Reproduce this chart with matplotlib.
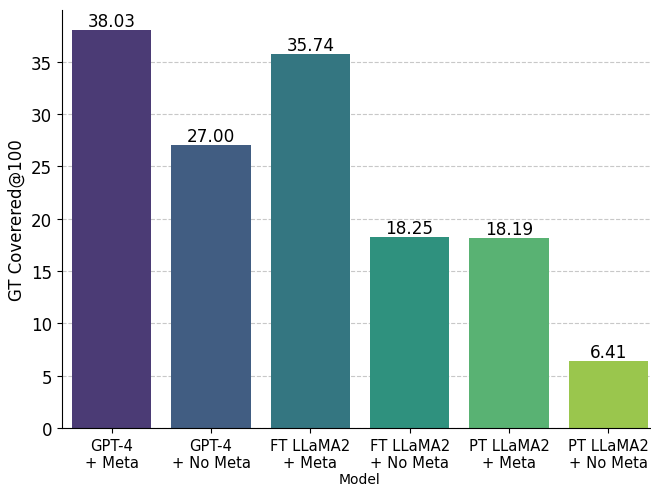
import matplotlib
matplotlib.use("Agg")
import matplotlib.pyplot as plt
import seaborn as sns
import pandas as pd

models = ["GPT-4\n+ Meta", "GPT-4\n+ No Meta", "FT LLaMA2\n+ Meta",
          "FT LLaMA2\n+ No Meta", "PT LLaMA2\n+ Meta", "PT LLaMA2\n+ No Meta"]
scores = [38.03, 27.00, 35.74, 18.25, 18.19, 6.41]

df = pd.DataFrame({"Model": models, "score": scores})

fig = plt.figure(figsize=(6.51, 4.85), dpi=100)
ax = fig.add_axes([62/651, (485-429)/485, 596/651, (429-11)/485])
ax.set_axisbelow(True)
ax.yaxis.grid(True, linestyle="--", color="#c8c8c8", linewidth=0.8)
sns.barplot(data=df, x="Model", y="score", hue="Model", palette="viridis",
            legend=False, ax=ax)
for i, v in enumerate(scores):
    ax.text(i, v, f"{v:.2f}", ha="center", va="bottom", fontsize=12.2)
ax.set_ylabel("GT Coverered@100", fontsize=12)
ax.set_xlabel("Model", fontsize=10, labelpad=1)
ax.tick_params(axis="y", labelsize=12)
ax.tick_params(axis="x", labelsize=10.6)
ax.spines["top"].set_visible(False)
ax.spines["right"].set_visible(False)
fig.savefig("out.png", dpi=100)
